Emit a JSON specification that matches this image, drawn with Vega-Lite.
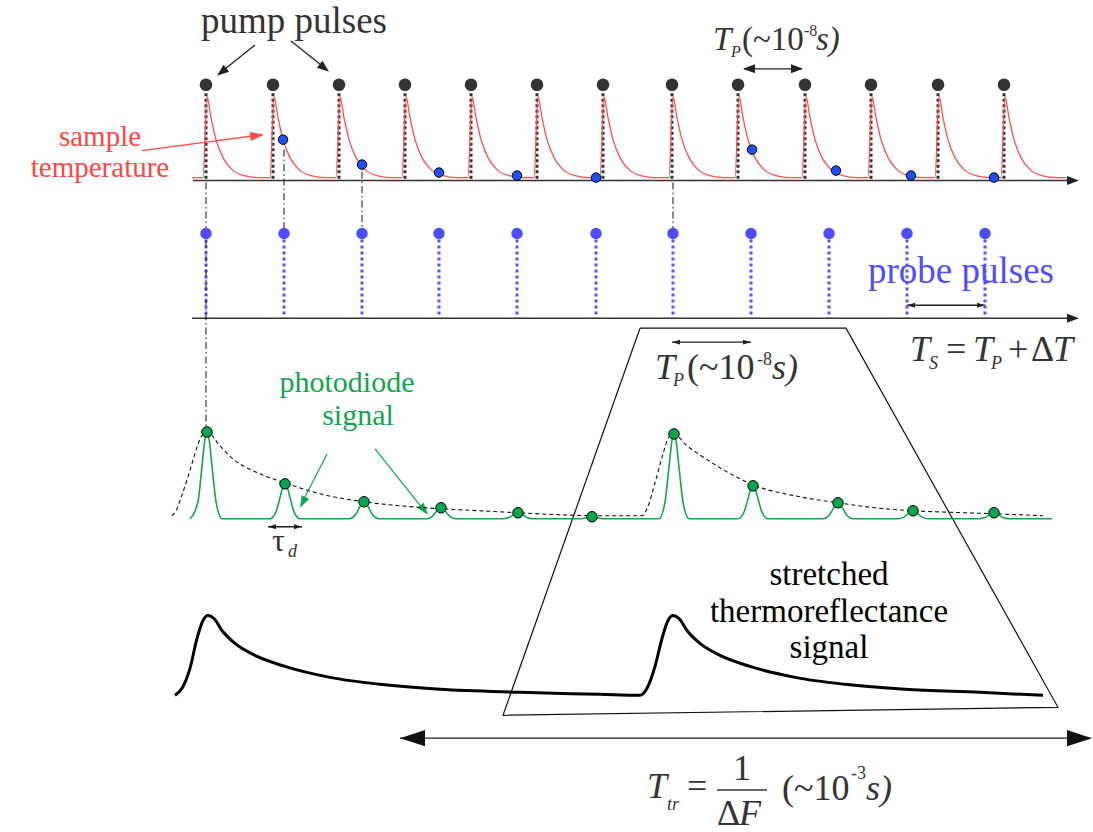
{
"$schema":"https://vega.github.io/schema/vega-lite/v6.json",
"width":1093,"height":832,
"autosize":{"type":"fit","contains":"padding"},
"padding":0,
"background":"white",
"config":{"view":{"stroke":null}},
"datasets":{
"trap":[{"i":0,"x":640,"y":329},{"i":1,"x":846,"y":329},{"i":2,"x":1058,"y":709},{"i":3,"x":503,"y":717},{"i":4,"x":640,"y":329}],
"axes":[{"x":193,"y":181,"x2":1072,"y2":181},{"x":192,"y":319,"x2":1072,"y2":319}],
"shafts":[{"x":744,"y":69,"x2":802,"y2":69},{"x":255,"y":45,"x2":219,"y2":74},{"x":291,"y":41,"x2":327,"y2":70},{"x":907,"y":306,"x2":985,"y2":306},{"x":672,"y":343,"x2":751,"y2":343},{"x":268,"y":528,"x2":302,"y2":528},{"x":400,"y":740,"x2":1090,"y2":740}],
"headsMed":[{"x":803,"y":69,"a":0},{"x":743,"y":69,"a":180},{"x":217,"y":76,"a":141},{"x":329,"y":72,"a":39},{"x":1079,"y":181,"a":0},{"x":1079,"y":319,"a":0}],
"headsSmall":[{"x":907,"y":306,"a":180},{"x":985,"y":306,"a":0},{"x":672,"y":343,"a":180},{"x":751,"y":343,"a":0},{"x":268,"y":528,"a":180},{"x":302,"y":528,"a":0}],
"headsBig":[{"x":400,"y":740,"a":180},{"x":1092,"y":740,"a":0}],
"redShaft":[{"x":142,"y":151,"x2":262,"y2":135}],
"redHead":[{"x":264,"y":135,"a":352.5}],
"greenShafts":[{"x":327,"y":455,"x2":301,"y2":506},{"x":375,"y":450,"x2":426,"y2":514}],
"greenHeads":[{"x":300,"y":509,"a":117},{"x":428,"y":516,"a":51}],
"frac":[{"x":717,"y":792,"x2":767,"y2":792}],
"pumpLines":[{"x":206,"y":88,"y2":181},{"x":273,"y":88,"y2":181},{"x":339,"y":88,"y2":181},{"x":405,"y":88,"y2":181},{"x":471,"y":88,"y2":181},{"x":537,"y":88,"y2":181},{"x":603,"y":88,"y2":181},{"x":672,"y":88,"y2":181},{"x":738,"y":88,"y2":181},{"x":805,"y":88,"y2":181},{"x":871,"y":88,"y2":181},{"x":938,"y":88,"y2":181},{"x":1004,"y":88,"y2":181}],
"probeLines":[{"x":206,"y":234,"y2":319},{"x":284,"y":234,"y2":319},{"x":362,"y":234,"y2":319},{"x":439,"y":234,"y2":319},{"x":517,"y":234,"y2":319},{"x":596,"y":234,"y2":319},{"x":673,"y":234,"y2":319},{"x":751,"y":234,"y2":319},{"x":829,"y":234,"y2":319},{"x":907,"y":234,"y2":319},{"x":985,"y":234,"y2":319}],
"dashdot":[{"x":206,"y":183,"y2":432},{"x":284,"y":150,"y2":232},{"x":362,"y":172,"y2":232},{"x":673,"y":183,"y2":232}],
"red":[{"x":192,"y":178},
{"x":203,"y":178},{"x":207,"y":97},{"x":211,"y":118},{"x":216,"y":140},{"x":223,"y":158},{"x":232,"y":170},{"x":244,"y":176},{"x":258,"y":178},
{"x":270,"y":178},{"x":274,"y":97},{"x":278,"y":118},{"x":283,"y":140},{"x":290,"y":158},{"x":299,"y":170},{"x":311,"y":176},{"x":325,"y":178},
{"x":336,"y":178},{"x":340,"y":97},{"x":344,"y":118},{"x":349,"y":140},{"x":356,"y":158},{"x":365,"y":170},{"x":377,"y":176},{"x":391,"y":178},
{"x":402,"y":178},{"x":406,"y":97},{"x":410,"y":118},{"x":415,"y":140},{"x":422,"y":158},{"x":431,"y":170},{"x":443,"y":176},{"x":457,"y":178},
{"x":468,"y":178},{"x":472,"y":97},{"x":476,"y":118},{"x":481,"y":140},{"x":488,"y":158},{"x":497,"y":170},{"x":509,"y":176},{"x":523,"y":178},
{"x":534,"y":178},{"x":538,"y":97},{"x":542,"y":118},{"x":547,"y":140},{"x":554,"y":158},{"x":563,"y":170},{"x":575,"y":176},{"x":589,"y":178},
{"x":600,"y":178},{"x":604,"y":97},{"x":608,"y":118},{"x":613,"y":140},{"x":620,"y":158},{"x":629,"y":170},{"x":641,"y":176},{"x":655,"y":178},
{"x":669,"y":178},{"x":673,"y":97},{"x":677,"y":118},{"x":682,"y":140},{"x":689,"y":158},{"x":698,"y":170},{"x":710,"y":176},{"x":724,"y":178},
{"x":735,"y":178},{"x":739,"y":97},{"x":743,"y":118},{"x":748,"y":140},{"x":755,"y":158},{"x":764,"y":170},{"x":776,"y":176},{"x":790,"y":178},
{"x":802,"y":178},{"x":806,"y":97},{"x":810,"y":118},{"x":815,"y":140},{"x":822,"y":158},{"x":831,"y":170},{"x":843,"y":176},{"x":857,"y":178},
{"x":868,"y":178},{"x":872,"y":97},{"x":876,"y":118},{"x":881,"y":140},{"x":888,"y":158},{"x":897,"y":170},{"x":909,"y":176},{"x":923,"y":178},
{"x":935,"y":178},{"x":939,"y":97},{"x":943,"y":118},{"x":948,"y":140},{"x":955,"y":158},{"x":964,"y":170},{"x":976,"y":176},{"x":990,"y":178},
{"x":1001,"y":178},{"x":1005,"y":97},{"x":1009,"y":118},{"x":1014,"y":140},{"x":1021,"y":158},{"x":1030,"y":170},{"x":1042,"y":176},{"x":1056,"y":178},
{"x":1066,"y":178}],
"green":[{"x":190,"y":520},{"x":198,"y":502.8},{"x":202,"y":467.2},{"x":205,"y":439.7},{"x":207,"y":433},{"x":209,"y":439.7},{"x":212,"y":467.2},{"x":216,"y":502.8},{"x":222,"y":520},
{"x":270,"y":520},{"x":276,"y":513.1},{"x":280,"y":498.8},{"x":283,"y":487.7},{"x":285,"y":485},{"x":287,"y":487.7},{"x":290,"y":498.8},{"x":294,"y":513.1},{"x":300,"y":520},
{"x":349,"y":520},{"x":355,"y":516.6},{"x":359,"y":509.7},{"x":362,"y":504.3},{"x":364,"y":503},{"x":366,"y":504.3},{"x":369,"y":509.7},{"x":373,"y":516.6},{"x":379,"y":520},
{"x":426,"y":520},{"x":432,"y":517.8},{"x":436,"y":513.3},{"x":439,"y":509.8},{"x":441,"y":509},{"x":443,"y":509.8},{"x":446,"y":513.3},{"x":450,"y":517.8},{"x":456,"y":520},
{"x":503,"y":520},{"x":509,"y":518.8},{"x":513,"y":516.4},{"x":516,"y":514.5},{"x":518,"y":514},{"x":520,"y":514.5},{"x":523,"y":516.4},{"x":527,"y":518.8},{"x":533,"y":520},
{"x":582,"y":520},{"x":587,"y":518.8},{"x":592,"y":518},{"x":597,"y":518.8},{"x":602,"y":520},
{"x":659,"y":520},{"x":665,"y":503.2},{"x":669,"y":468.4},{"x":672,"y":441.5},{"x":674,"y":435},{"x":676,"y":441.5},{"x":679,"y":468.4},{"x":683,"y":503.2},{"x":689,"y":520},
{"x":738,"y":520},{"x":744,"y":513.5},{"x":748,"y":500},{"x":751,"y":489.5},{"x":753,"y":487},{"x":755,"y":489.5},{"x":758,"y":500},{"x":762,"y":513.5},{"x":768,"y":520},
{"x":823,"y":520},{"x":829,"y":516.8},{"x":833,"y":510.3},{"x":836,"y":505.2},{"x":838,"y":504},{"x":840,"y":505.2},{"x":843,"y":510.3},{"x":847,"y":516.8},{"x":853,"y":520},
{"x":898,"y":520},{"x":904,"y":518.4},{"x":908,"y":515.1},{"x":911,"y":512.6},{"x":913,"y":512},{"x":915,"y":512.6},{"x":918,"y":515.1},{"x":922,"y":518.4},{"x":928,"y":520},
{"x":979,"y":520},{"x":985,"y":518.8},{"x":989,"y":516.4},{"x":992,"y":514.5},{"x":994,"y":514},{"x":996,"y":514.5},{"x":999,"y":516.4},{"x":1003,"y":518.8},{"x":1009,"y":520},
{"x":1052,"y":520}],
"envelope":[{"x":172,"y":517},{"x":176,"y":512},{"x":182,"y":496},{"x":188,"y":478},{"x":194,"y":458},{"x":200,"y":440},{"x":207,"y":433},{"x":220,"y":447},{"x":233,"y":460},{"x":260,"y":475},{"x":285,"y":484},{"x":320,"y":495},{"x":364,"y":503},{"x":400,"y":507},{"x":441,"y":510},{"x":480,"y":512},{"x":518,"y":514},{"x":560,"y":516},{"x":600,"y":517},{"x":642,"y":517},{"x":647,"y":510},{"x":655,"y":484},{"x":663,"y":455},{"x":669,"y":438},{"x":674,"y":435},{"x":686,"y":446},{"x":700,"y":456},{"x":727,"y":473},{"x":753,"y":486},{"x":800,"y":498},{"x":838,"y":504},{"x":875,"y":509},{"x":913,"y":512},{"x":950,"y":513.5},{"x":994,"y":515},{"x":1043,"y":517}],
"stretched":[{"x":175,"y":697},{"x":182,"y":690},{"x":190,"y":670},{"x":197,"y":640},{"x":203,"y":622},{"x":208,"y":617},{"x":214,"y":620},{"x":222,"y":632},{"x":235,"y":645},{"x":255,"y":657},{"x":285,"y":668},{"x":330,"y":679},{"x":380,"y":686},{"x":440,"y":691},{"x":520,"y":694},{"x":600,"y":696},{"x":640,"y":697},{"x":647,"y":690},{"x":655,"y":668},{"x":662,"y":640},{"x":668,"y":622},{"x":673,"y":617},{"x":679,"y":620},{"x":687,"y":632},{"x":700,"y":645},{"x":720,"y":657},{"x":750,"y":668},{"x":795,"y":679},{"x":845,"y":686},{"x":905,"y":691},{"x":980,"y":694},{"x":1043,"y":697}],
"pump":[{"x":206,"y":85},{"x":273,"y":85},{"x":339,"y":85},{"x":405,"y":85},{"x":471,"y":85},{"x":537,"y":85},{"x":603,"y":85},{"x":672,"y":85},{"x":738,"y":85},{"x":805,"y":85},{"x":871,"y":85},{"x":938,"y":85},{"x":1004,"y":85}],
"probe":[{"x":206,"y":234},{"x":284,"y":234},{"x":362,"y":234},{"x":439,"y":234},{"x":517,"y":234},{"x":596,"y":234},{"x":673,"y":234},{"x":751,"y":234},{"x":829,"y":234},{"x":907,"y":234},{"x":985,"y":234}],
"sampled":[{"x":283,"y":140},{"x":362,"y":165},{"x":439,"y":173},{"x":517,"y":176},{"x":596,"y":178},{"x":752,"y":150},{"x":836,"y":171},{"x":911,"y":176},{"x":994,"y":178}],
"gdots":[{"x":207,"y":433},{"x":285,"y":485},{"x":364,"y":503},{"x":441,"y":509},{"x":518,"y":514},{"x":592,"y":518},{"x":674,"y":435},{"x":753,"y":487},{"x":838,"y":504},{"x":913,"y":512},{"x":994,"y":514}],
"tPump":[{"x":294,"y":33,"t":"pump pulses"}],
"tRed":[{"x":100,"y":146,"t":"sample"},{"x":100,"y":177,"t":"temperature"}],
"tProbe":[{"x":868,"y":284,"t":"probe pulses"}],
"tGreen":[{"x":347,"y":393,"t":"photodiode"},{"x":358,"y":426,"t":"signal"}],
"tStretch":[{"x":829,"y":586,"t":"stretched"},{"x":829,"y":623,"t":"thermoreflectance"},{"x":829,"y":660,"t":"signal"}],
"mTopI":[{"x":713,"y":50,"t":"T"},{"x":816,"y":50,"t":"s)"}],
"mTopN":[{"x":742,"y":50,"t":"(~10"}],
"mTopSub":[{"x":731,"y":57,"t":"P"}],
"mTopSup":[{"x":804,"y":36,"t":"-8"}],
"mI":[{"x":655,"y":380,"t":"T"},{"x":772,"y":380,"t":"s)"},{"x":910,"y":362,"t":"T"},{"x":973,"y":362,"t":"T"},{"x":1053,"y":362,"t":"T"},{"x":647,"y":800,"t":"T"},{"x":739,"y":827,"t":"F"},{"x":866,"y":802,"t":"s)"}],
"mN":[{"x":687,"y":380,"t":"(~10"},{"x":946,"y":362,"t":"="},{"x":1008,"y":362,"t":"+"},{"x":1031,"y":362,"t":"Δ"},{"x":687,"y":800,"t":"="},{"x":733,"y":782,"t":"1"},{"x":717,"y":827,"t":"Δ"},{"x":782,"y":802,"t":"(~10"}],
"mSub":[{"x":673,"y":387,"t":"P"},{"x":929,"y":370,"t":"S"},{"x":991,"y":370,"t":"P"},{"x":667,"y":812,"t":"tr"},{"x":288,"y":558,"t":"d"}],
"mSup":[{"x":757,"y":366,"t":"-8"},{"x":851,"y":781,"t":"-3"}],
"tTau":[{"x":272,"y":552,"t":"τ"}]
},
"encoding":{
"x":{"field":"x","type":"quantitative","scale":{"domain":[0,1093],"nice":false,"zero":false},"axis":null},
"y":{"field":"y","type":"quantitative","scale":{"domain":[0,832],"reverse":true,"nice":false,"zero":false},"axis":null}
},
"layer":[
{"data":{"name":"trap"},"mark":{"type":"line","color":"#111","strokeWidth":1.2},"encoding":{"order":{"field":"i","type":"quantitative"}}},
{"data":{"name":"axes"},"mark":{"type":"rule","color":"#333","strokeWidth":1.5},"encoding":{"x2":{"field":"x2"},"y2":{"field":"y2"}}},
{"data":{"name":"shafts"},"mark":{"type":"rule","color":"#222","strokeWidth":1.3},"encoding":{"x2":{"field":"x2"},"y2":{"field":"y2"}}},
{"data":{"name":"frac"},"mark":{"type":"rule","color":"#333","strokeWidth":1.5},"encoding":{"x2":{"field":"x2"},"y2":{"field":"y2"}}},
{"data":{"name":"redShaft"},"mark":{"type":"rule","color":"#ff4d4d","strokeWidth":1.3},"encoding":{"x2":{"field":"x2"},"y2":{"field":"y2"}}},
{"data":{"name":"greenShafts"},"mark":{"type":"rule","color":"#12a550","strokeWidth":1.2},"encoding":{"x2":{"field":"x2"},"y2":{"field":"y2"}}},
{"data":{"name":"headsMed"},"mark":{"type":"point","shape":"M 0 0 L -2 -0.75 L -2 0.75 Z","filled":true,"size":144,"color":"#222","opacity":1,"strokeWidth":0},"encoding":{"angle":{"field":"a","type":"quantitative","scale":null}}},
{"data":{"name":"headsSmall"},"mark":{"type":"point","shape":"M 0 0 L -2 -0.6 L -2 0.6 Z","filled":true,"size":64,"color":"#222","opacity":1,"strokeWidth":0},"encoding":{"angle":{"field":"a","type":"quantitative","scale":null}}},
{"data":{"name":"headsBig"},"mark":{"type":"point","shape":"M 0 0 L -2 -0.65 L -2 0.65 Z","filled":true,"size":625,"color":"#111","opacity":1,"strokeWidth":0},"encoding":{"angle":{"field":"a","type":"quantitative","scale":null}}},
{"data":{"name":"redHead"},"mark":{"type":"point","shape":"M 0 0 L -2 -0.65 L -2 0.65 Z","filled":true,"size":196,"color":"#ff4d4d","opacity":1,"strokeWidth":0},"encoding":{"angle":{"field":"a","type":"quantitative","scale":null}}},
{"data":{"name":"greenHeads"},"mark":{"type":"point","shape":"M 0 0 L -2 -0.7 L -2 0.7 Z","filled":true,"size":144,"color":"#12a550","opacity":1,"strokeWidth":0},"encoding":{"angle":{"field":"a","type":"quantitative","scale":null}}},
{"data":{"name":"pumpLines"},"mark":{"type":"rule","color":"#333","strokeWidth":3,"strokeDash":[3,2.5]},"encoding":{"y2":{"field":"y2"}}},
{"data":{"name":"probeLines"},"mark":{"type":"rule","color":"#5555ff","strokeWidth":3,"strokeDash":[3,3]},"encoding":{"y2":{"field":"y2"}}},
{"data":{"name":"dashdot"},"mark":{"type":"rule","color":"#111","strokeWidth":1,"strokeDash":[7,3,1.5,3]},"encoding":{"y2":{"field":"y2"}}},
{"data":{"name":"red"},"mark":{"type":"line","color":"#ff4d4d","strokeWidth":1.3,"interpolate":"monotone"},"encoding":{}},
{"data":{"name":"envelope"},"mark":{"type":"line","color":"#111","strokeWidth":1.1,"strokeDash":[4,3],"interpolate":"monotone"},"encoding":{}},
{"data":{"name":"green"},"mark":{"type":"line","color":"#12a550","strokeWidth":1.6,"interpolate":"monotone"},"encoding":{}},
{"data":{"name":"stretched"},"mark":{"type":"line","color":"#000","strokeWidth":3,"interpolate":"monotone"},"encoding":{}},
{"data":{"name":"pump"},"mark":{"type":"circle","size":160,"color":"#333","opacity":1},"encoding":{}},
{"data":{"name":"probe"},"mark":{"type":"circle","size":130,"color":"#4d4dff","opacity":1},"encoding":{}},
{"data":{"name":"sampled"},"mark":{"type":"circle","size":90,"fill":"#2050f0","stroke":"#000","strokeWidth":1,"opacity":1},"encoding":{}},
{"data":{"name":"gdots"},"mark":{"type":"circle","size":110,"fill":"#0aa552","stroke":"#000","strokeWidth":1,"opacity":1},"encoding":{}},
{"data":{"name":"tPump"},"mark":{"type":"text","font":"Liberation Serif","fontSize":37,"color":"#333","align":"center","baseline":"alphabetic"},"encoding":{"text":{"field":"t"}}},
{"data":{"name":"tRed"},"mark":{"type":"text","font":"Liberation Serif","fontSize":29,"color":"#ff4545","align":"center","baseline":"alphabetic"},"encoding":{"text":{"field":"t"}}},
{"data":{"name":"tProbe"},"mark":{"type":"text","font":"Liberation Serif","fontSize":37,"color":"#4d4dff","align":"left","baseline":"alphabetic"},"encoding":{"text":{"field":"t"}}},
{"data":{"name":"tGreen"},"mark":{"type":"text","font":"Liberation Serif","fontSize":30,"color":"#12a550","align":"center","baseline":"alphabetic"},"encoding":{"text":{"field":"t"}}},
{"data":{"name":"tStretch"},"mark":{"type":"text","font":"Liberation Serif","fontSize":33,"color":"#000","align":"center","baseline":"alphabetic"},"encoding":{"text":{"field":"t"}}},
{"data":{"name":"mTopI"},"mark":{"type":"text","font":"Liberation Serif","fontStyle":"italic","fontSize":33,"color":"#333","align":"left","baseline":"alphabetic"},"encoding":{"text":{"field":"t"}}},
{"data":{"name":"mTopN"},"mark":{"type":"text","font":"Liberation Serif","fontSize":33,"color":"#333","align":"left","baseline":"alphabetic"},"encoding":{"text":{"field":"t"}}},
{"data":{"name":"mTopSub"},"mark":{"type":"text","font":"Liberation Serif","fontStyle":"italic","fontSize":16,"color":"#333","align":"left","baseline":"alphabetic"},"encoding":{"text":{"field":"t"}}},
{"data":{"name":"mTopSup"},"mark":{"type":"text","font":"Liberation Serif","fontSize":16,"color":"#333","align":"left","baseline":"alphabetic"},"encoding":{"text":{"field":"t"}}},
{"data":{"name":"mI"},"mark":{"type":"text","font":"Liberation Serif","fontStyle":"italic","fontSize":36,"color":"#333","align":"left","baseline":"alphabetic"},"encoding":{"text":{"field":"t"}}},
{"data":{"name":"mN"},"mark":{"type":"text","font":"Liberation Serif","fontSize":36,"color":"#333","align":"left","baseline":"alphabetic"},"encoding":{"text":{"field":"t"}}},
{"data":{"name":"mSub"},"mark":{"type":"text","font":"Liberation Serif","fontStyle":"italic","fontSize":18,"color":"#333","align":"left","baseline":"alphabetic"},"encoding":{"text":{"field":"t"}}},
{"data":{"name":"mSup"},"mark":{"type":"text","font":"Liberation Serif","fontSize":18,"color":"#333","align":"left","baseline":"alphabetic"},"encoding":{"text":{"field":"t"}}},
{"data":{"name":"tTau"},"mark":{"type":"text","font":"Liberation Serif","fontSize":32,"color":"#333","align":"left","baseline":"alphabetic"},"encoding":{"text":{"field":"t"}}}
]
}
